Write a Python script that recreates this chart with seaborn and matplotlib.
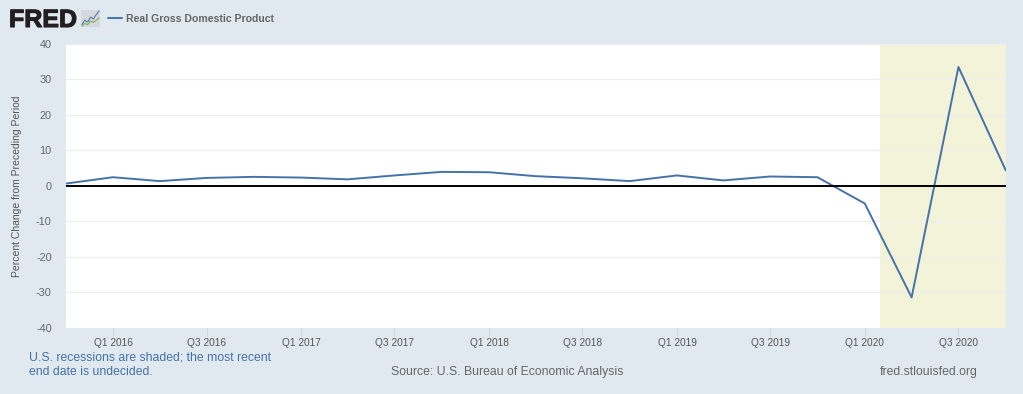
import pandas as pd
import matplotlib.pyplot as plt
import matplotlib.patheffects as pe
import seaborn as sns

# Real GDP, percent change from preceding period
quarters = ['2015-10-01', '2016-01-01', '2016-04-01', '2016-07-01', '2016-10-01',
            '2017-01-01', '2017-04-01', '2017-07-01', '2017-10-01',
            '2018-01-01', '2018-04-01', '2018-07-01', '2018-10-01',
            '2019-01-01', '2019-04-01', '2019-07-01', '2019-10-01',
            '2020-01-01', '2020-04-01', '2020-07-01', '2020-10-01']
gdp_change = [0.6, 2.4, 1.3, 2.2, 2.5, 2.3, 1.8, 2.9, 3.9, 3.8, 2.7, 2.1, 1.3,
              2.9, 1.5, 2.6, 2.4, -5.0, -31.4, 33.4, 4.3]
tick_dates = ['2016-01-01', '2016-07-01', '2017-01-01', '2017-07-01', '2018-01-01',
              '2018-07-01', '2019-01-01', '2019-07-01', '2020-01-01', '2020-07-01']
tick_labels = ['Q1 2016', 'Q3 2016', 'Q1 2017', 'Q3 2017', 'Q1 2018',
               'Q3 2018', 'Q1 2019', 'Q3 2019', 'Q1 2020', 'Q3 2020']
y_ticks = [-40, -30, -20, -10, 0, 10, 20, 30, 40]
recession_start = '2020-01-30'

# logo icon lines
icon_x = [0, 1, 2, 3, 4, 5, 6]
icon_blue = [1.0, 2.4, 1.8, 3.4, 2.8, 4.2, 5.4]
icon_green = [0.5, 1.4, 1.0, 2.2, 1.7, 2.4, 3.2]

BG = '#e1e9f0'
BLUE = '#4572a7'
W, H = 1023, 394

sns.set_style('white')
plt.rcParams['font.family'] = ['Liberation Sans', 'DejaVu Sans']
plt.rcParams['axes.unicode_minus'] = False

df = pd.DataFrame({'date': pd.to_datetime(quarters), 'gdp': gdp_change})

fig = plt.figure(figsize=(W / 100, H / 100), dpi=100, facecolor=BG)
ax = fig.add_axes([65.6 / W, 1 - 328 / H, 940.2 / W, 284.5 / H])
ax.set_facecolor('white')

ax.axvspan(pd.Timestamp(recession_start), df['date'].iloc[-1], color='#f3f3da', lw=0, zorder=0)
ax.yaxis.grid(True, color='#eeeeee', lw=0.9, zorder=1)
ax.xaxis.grid(False)
sns.lineplot(data=df, x='date', y='gdp', color=BLUE, lw=1.4, ax=ax, zorder=3, errorbar=None)
ax.axhline(0, color='black', lw=1.4, zorder=4)

ax.set_xlim(df['date'].iloc[0], df['date'].iloc[-1])
ax.set_ylim(-40, 40)
ax.set_yticks(y_ticks)
ax.set_xticks(pd.to_datetime(tick_dates))
ax.set_xticklabels(tick_labels)
ax.tick_params(axis='x', length=5.8, width=0.7, color='#c8d7e6', labelsize=7.3, labelcolor='#555555', pad=1.5, bottom=True)
ax.tick_params(axis='y', length=0, labelsize=7.8, labelcolor='#666666', pad=10)
for s in ax.spines.values():
    s.set_visible(False)
ax.set_xlabel('')
ax.set_ylabel('')

fig.text(17 / W, 1 - 186.5 / H, 'Percent Change from Preceding Period', rotation=90,
         ha='center', va='center', fontsize=7.5, color='#555555')

# header
logo = fig.text(9 / W, 1 - 27 / H, 'FRED', fontsize=18, fontweight='bold', color='#231f20', ha='left', va='baseline')
logo.set_path_effects([pe.withStroke(linewidth=0.8, foreground='#231f20')])
icon = fig.add_axes([81 / W, 1 - 27 / H, 19 / W, 17 / H])
icon.set_facecolor('#d3d9dc')
icon.plot(icon_x, icon_blue, color=BLUE, lw=0.7)
icon.plot(icon_x, icon_green, color='#7fa845', lw=0.7)
icon.set_xticks([])
icon.set_yticks([])
for s in icon.spines.values():
    s.set_visible(False)

fig.add_artist(plt.Line2D([108 / W, 122 / W], [1 - 17.5 / H, 1 - 17.5 / H], color=BLUE, lw=1.4))
fig.text(126 / W, 1 - 18.5 / H, 'Real Gross Domestic Product', fontsize=7.6, fontweight='bold',
         color='#666666', ha='left', va='center')

# footer
fig.text(29 / W, 1 - 358 / H, 'U.S. recessions are shaded; the most recent', fontsize=8.8, color=BLUE, ha='left', va='center')
fig.text(29 / W, 1 - 372 / H, 'end date is undecided.', fontsize=8.8, color=BLUE, ha='left', va='center')
fig.text(507 / W, 1 - 372 / H, 'Source: U.S. Bureau of Economic Analysis', fontsize=8.85, color='#666666', ha='center', va='center')
fig.text(978 / W, 1 - 372 / H, 'fred.stlouisfed.org', fontsize=8.85, color='#666666', ha='right', va='center')

fig.savefig('out.png', dpi=100, facecolor=BG)
